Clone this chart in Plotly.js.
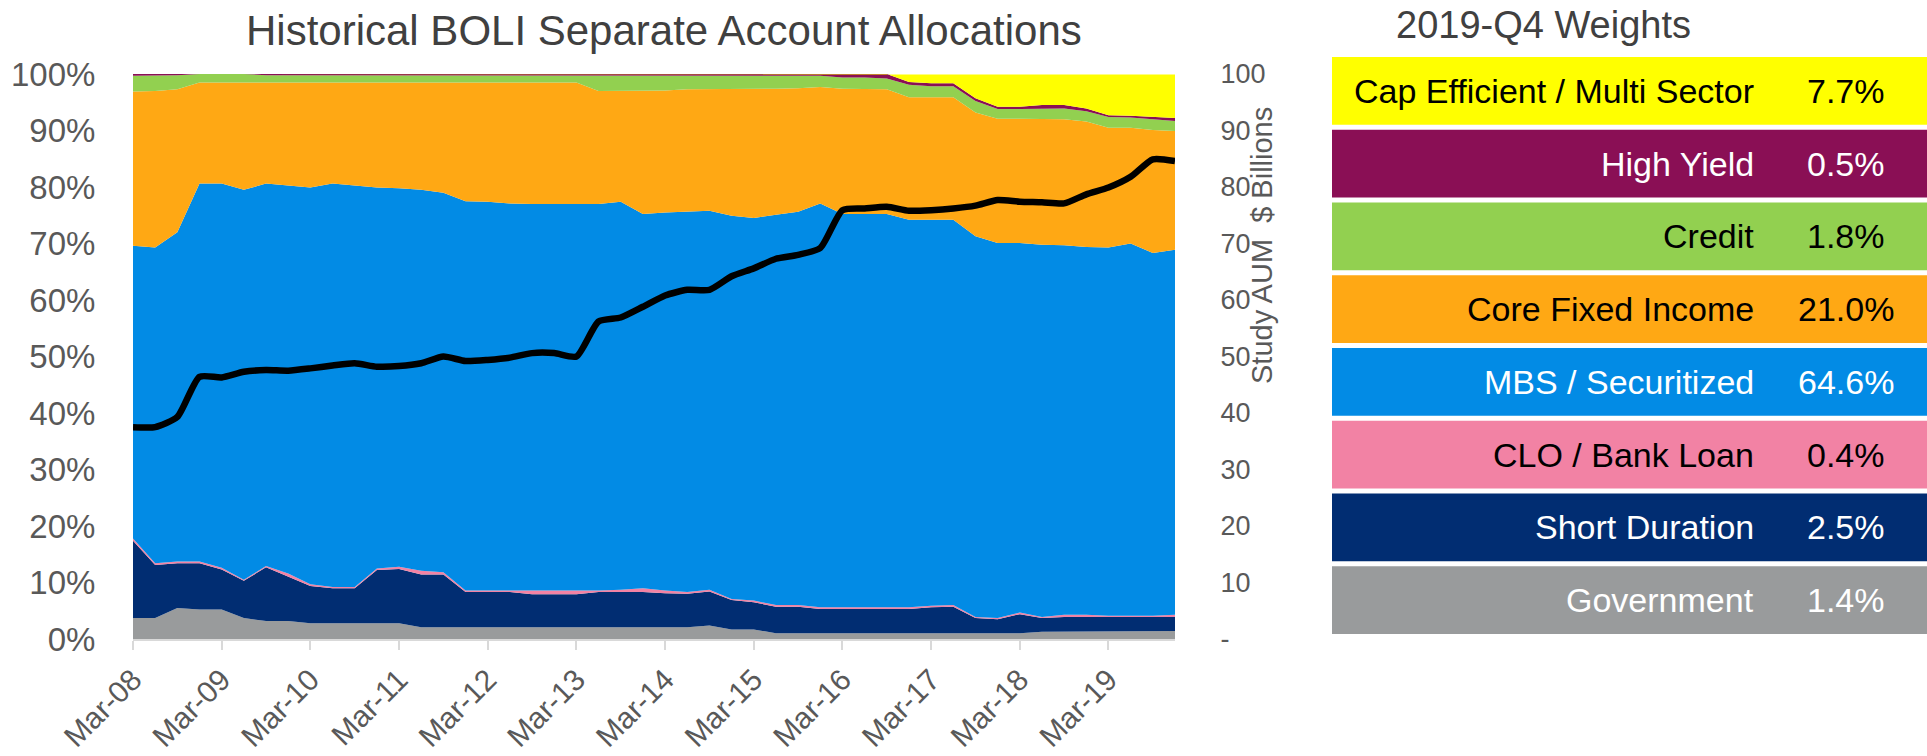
<!DOCTYPE html>
<html>
<head>
<meta charset="utf-8">
<script src="https://cdn.plot.ly/plotly-3.0.1.min.js"></script>
<style>
html,body{margin:0;padding:0;background:#ffffff;}
#chart{width:1927px;height:756px;}
</style>
</head>
<body>
<div id="chart"></div>
<script>
// ---------------- DATA ----------------
const quarters = ["Mar-08","Jun-08","Sep-08","Dec-08","Mar-09","Jun-09","Sep-09","Dec-09",
  "Mar-10","Jun-10","Sep-10","Dec-10","Mar-11","Jun-11","Sep-11","Dec-11",
  "Mar-12","Jun-12","Sep-12","Dec-12","Mar-13","Jun-13","Sep-13","Dec-13",
  "Mar-14","Jun-14","Sep-14","Dec-14","Mar-15","Jun-15","Sep-15","Dec-15",
  "Mar-16","Jun-16","Sep-16","Dec-16","Mar-17","Jun-17","Sep-17","Dec-17",
  "Mar-18","Jun-18","Sep-18","Dec-18","Mar-19","Jun-19","Sep-19","Dec-19"];

const government = [3.7,3.7,5.5,5.2,5.2,3.7,3.2,3.2,2.8,2.8,2.8,2.8,2.8,2.1,2.1,2.1,
  2.1,2.1,2.1,2.1,2.1,2.1,2.1,2.1,2.1,2.1,2.4,1.7,1.7,1.0,1.0,1.0,
  1.0,1.0,1.0,1.0,1.0,1.0,1.0,1.0,1.0,1.3,1.3,1.3,1.3,1.3,1.3,1.4];

const shortDuration = [13.7,9.4,7.9,8.2,7.1,6.6,9.5,7.8,6.6,6.2,6.2,9.4,9.6,9.3,9.3,6.2,
  6.2,6.2,5.8,5.8,5.8,6.2,6.2,6.2,6.0,5.9,6.0,5.2,4.8,4.7,4.7,4.3,
  4.3,4.3,4.3,4.3,4.6,4.7,2.7,2.5,3.4,2.4,2.6,2.6,2.6,2.6,2.6,2.5];

const cloBankLoan = [0.4,0.3,0.3,0.3,0.3,0.2,0.2,0.6,0.3,0.2,0.2,0.3,0.4,0.7,0.4,0.3,
  0.3,0.3,0.6,0.6,0.6,0.3,0.4,0.7,0.5,0.3,0.3,0.2,0.3,0.3,0.3,0.3,
  0.3,0.3,0.3,0.3,0.3,0.3,0.2,0.2,0.3,0.2,0.4,0.4,0.2,0.2,0.2,0.4];

const mbsSecuritized = [51.8,55.9,58.3,66.9,68.0,69.0,67.7,68.6,70.2,71.4,71.0,67.4,67.0,67.4,67.2,68.9,
  68.8,68.5,68.5,68.5,68.5,68.4,68.7,66.2,66.9,67.4,67.1,67.8,67.7,69.1,69.6,71.5,
  69.6,69.6,69.6,68.6,68.3,68.2,67.4,66.4,65.4,65.9,65.4,65.1,65.2,65.9,64.2,64.6];

const coreFixedIncome = [27.3,27.7,25.3,17.9,17.9,19.0,17.9,18.3,18.6,17.9,18.3,18.6,18.7,19.0,19.5,21.0,
  21.1,21.4,21.5,21.5,21.5,20.0,19.6,21.8,21.6,21.6,21.5,22.4,22.9,22.3,21.9,20.6,
  22.2,22.2,22.1,21.7,21.7,21.7,21.9,22.0,22.0,22.2,22.3,22.2,21.2,20.5,21.8,21.0];

const credit = [2.8,2.7,2.5,1.5,1.5,1.5,1.3,1.3,1.3,1.3,1.3,1.3,1.3,1.3,1.3,1.3,
  1.3,1.3,1.3,1.3,1.3,2.8,2.8,2.8,2.7,2.5,2.5,2.5,2.4,2.4,2.3,2.0,
  2.0,2.0,1.9,2.2,1.95,1.95,2.0,1.7,1.7,1.9,1.9,1.8,1.9,1.8,1.95,1.8];

const highYield = [0.3,0.3,0.2,0,0,0,0.2,0.2,0.2,0.2,0.2,0.2,0.2,0.2,0.2,0.2,
  0.2,0.2,0.2,0.2,0.2,0.2,0.2,0.2,0.2,0.2,0.2,0.2,0.2,0.2,0.2,0.3,
  0.6,0.6,0.8,0.5,0.5,0.5,0.5,0.4,0.4,0.6,0.6,0.5,0.3,0.3,0.4,0.5];

const capEfficient = [0,0,0,0,0,0,0,0,0,0,0,0,0,0,0,0,
  0,0,0,0,0,0,0,0,0,0,0,0,0,0,0,0,
  0,0,0,1.4,1.65,1.65,4.3,5.8,5.8,5.5,5.5,6.1,7.3,7.4,7.55,7.7];

const studyAUM = [37.5,37.5,39.3,46.4,46.3,47.3,47.6,47.5,47.9,48.4,48.8,48.2,48.3,48.8,50.0,49.2,
  49.4,49.8,50.6,50.6,50.0,56.2,56.9,58.8,60.8,61.8,61.8,64.2,65.6,67.3,68.0,69.2,
  75.9,76.2,76.5,75.8,75.9,76.2,76.7,77.7,77.4,77.3,77.1,78.7,79.9,81.8,84.9,84.6];

const tickVals = [0,10,20,30,40,50,60,70,80,90,100];
const leftTickText = ["0%","10%","20%","30%","40%","50%","60%","70%","80%","90%","100%"];
const rightTickText = ["-","10","20","30","40","50","60","70","80","90","100"];

const weightLabels = ["Cap Efficient / Multi Sector","High Yield","Credit","Core Fixed Income",
  "MBS / Securitized","CLO / Bank Loan","Short Duration","Government"];
const weightValues = [7.7,0.5,1.8,21.0,64.6,0.4,2.5,1.4];

// ---------------- STYLE ----------------
const COLORS = {
  "Government":"#999B9C",
  "Short Duration":"#012D72",
  "CLO / Bank Loan":"#F282A4",
  "MBS / Securitized":"#028BE5",
  "Core Fixed Income":"#FFA814",
  "Credit":"#92D050",
  "High Yield":"#8A0F55",
  "Cap Efficient / Multi Sector":"#FFFF00"
};
const TEXT_ON = {
  "Government":"#FFFFFF","Short Duration":"#FFFFFF","CLO / Bank Loan":"#000000",
  "MBS / Securitized":"#FFFFFF","Core Fixed Income":"#000000","Credit":"#000000",
  "High Yield":"#FFFFFF","Cap Efficient / Multi Sector":"#000000"
};
const FONT = "'Liberation Sans', Arial, Helvetica, sans-serif";
const W = 1927, H = 756;
const M = {l:133, r:0, t:40, b:117};
const plotW = W - M.l - M.r, plotH = H - M.t - M.b;
const px2x = p => (p - M.l) / plotW;
const px2y = p => (H - M.b - p) / plotH;

// ---------------- TRACES ----------------
const stackSeries = [
  ["Government", government],
  ["Short Duration", shortDuration],
  ["CLO / Bank Loan", cloBankLoan],
  ["MBS / Securitized", mbsSecuritized],
  ["Core Fixed Income", coreFixedIncome],
  ["Credit", credit],
  ["High Yield", highYield],
  ["Cap Efficient / Multi Sector", capEfficient]
];

const traces = stackSeries.map(([name, vals]) => ({
  type:"scatter", mode:"lines", name:name, x:quarters, y:vals,
  stackgroup:"alloc", line:{width:0, color:COLORS[name]}, fillcolor:COLORS[name],
  hoverinfo:"skip", showlegend:false
}));

traces.push({
  type:"scatter", mode:"lines", name:"Study AUM", x:quarters, y:studyAUM, yaxis:"y2",
  line:{color:"#000000", width:6.5, shape:"spline", smoothing:0.6},
  hoverinfo:"skip", showlegend:false
});

traces.push({
  type:"bar", orientation:"h", x:weightLabels.map(() => 1), y:weightLabels,
  xaxis:"x3", yaxis:"y3",
  marker:{color:weightLabels.map(n => COLORS[n]), line:{width:0}},
  hoverinfo:"skip", showlegend:false
});

// ---------------- ANNOTATIONS ----------------
const annotations = [
  {text:"Historical BOLI Separate Account Allocations", xref:"paper", yref:"paper",
   x:px2x(664), y:px2y(30), xanchor:"center", yanchor:"middle", showarrow:false,
   font:{size:42, color:"#404040", family:FONT}},
  {text:"2019-Q4 Weights", xref:"paper", yref:"paper",
   x:px2x(1543), y:px2y(25), xanchor:"center", yanchor:"middle", showarrow:false,
   font:{size:38, color:"#404040", family:FONT}},
  {text:"Study AUM\u00a0 $ Billions", xref:"paper", yref:"paper",
   x:px2x(1262), y:px2y(246), xanchor:"center", yanchor:"middle", showarrow:false,
   textangle:-90, font:{size:29, color:"#595959", family:FONT}}
];
const labelX = (1756 - 1332) / (W - 1332);
const valueX = (1846 - 1332) / (W - 1332);
weightLabels.forEach((name, i) => {
  annotations.push({text:name, xref:"x3", yref:"y3", x:labelX, y:name,
    xanchor:"right", yanchor:"middle", showarrow:false,
    font:{size:34, color:TEXT_ON[name], family:FONT}});
  annotations.push({text:weightValues[i].toFixed(1) + "%", xref:"x3", yref:"y3", x:valueX, y:name,
    xanchor:"center", yanchor:"middle", showarrow:false,
    font:{size:34, color:TEXT_ON[name], family:FONT}});
});

// ---------------- LAYOUT ----------------
const layout = {
  width:W, height:H,
  margin:{l:M.l, r:M.r, t:M.t, b:M.b, pad:0},
  paper_bgcolor:"#FFFFFF", plot_bgcolor:"rgba(0,0,0,0)",
  showlegend:false,
  font:{family:FONT, color:"#595959"},
  xaxis:{
    domain:[0, px2x(1175)], type:"category", range:[0, quarters.length - 1],
    tickmode:"array", tickvals:quarters.filter(q => q.startsWith("Mar")),
    ticks:"outside", ticklen:9, tickwidth:2, tickcolor:"#D9D9D9",
    showline:true, linecolor:"#D9D9D9", linewidth:2,
    tickangle:-45, tickfont:{size:30, color:"#595959", family:FONT},
    showgrid:false, zeroline:false, fixedrange:true
  },
  yaxis:{
    domain:[0, px2y(74)], range:[0, 100], tickmode:"array", tickvals:tickVals,
    ticktext:leftTickText, ticks:"outside", ticklen:30, tickcolor:"rgba(0,0,0,0)",
    showgrid:false, zeroline:false, showline:false,
    tickfont:{size:33, color:"#595959", family:FONT}, fixedrange:true
  },
  yaxis2:{
    overlaying:"y", side:"right", anchor:"x", range:[0, 100],
    tickmode:"array", tickvals:tickVals, ticktext:rightTickText,
    ticks:"outside", ticklen:39, tickcolor:"rgba(0,0,0,0)",
    showgrid:false, zeroline:false, showline:false,
    tickfont:{size:27, color:"#595959", family:FONT}, fixedrange:true
  },
  xaxis3:{domain:[px2x(1332), 1], range:[0, 1], anchor:"y3", visible:false, fixedrange:true},
  yaxis3:{domain:[px2y(636.5), px2y(54.5)], type:"category", range:[weightLabels.length - 0.5, -0.5],
    anchor:"x3", visible:false, fixedrange:true},
  bargap:5 / 72.6,
  annotations:annotations
};

Plotly.newPlot("chart", traces, layout, {staticPlot:true, displayModeBar:false});
</script>
</body>
</html>
